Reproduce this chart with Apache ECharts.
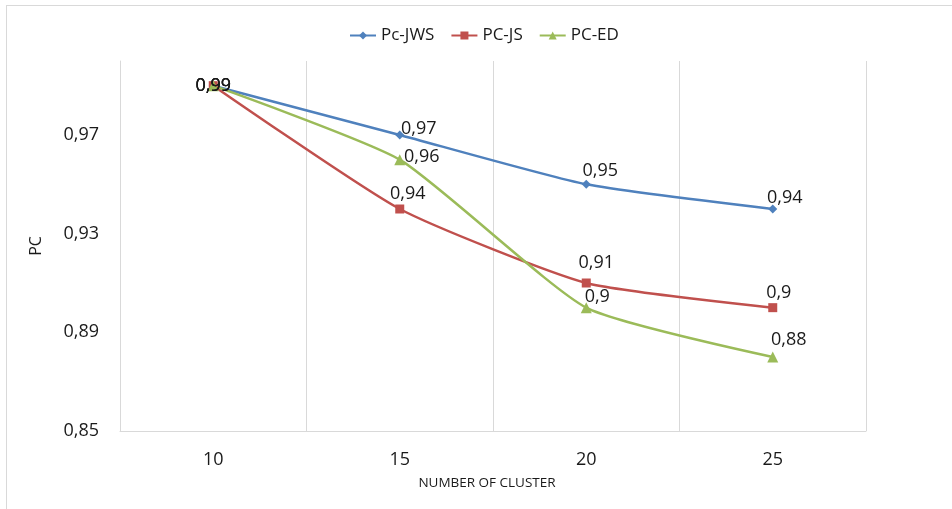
<!DOCTYPE html>
<html>
<head>
<meta charset="utf-8">
<script src="https://cdn.jsdelivr.net/npm/echarts@6/dist/echarts.min.js"></script>
<style>
  html, body { margin: 0; padding: 0; width: 952px; height: 509px; overflow: hidden; background: #fff; }
  #frame { position: absolute; left: 6px; top: 5px; width: 980px; height: 540px; border: 1px solid #d9d9d9; }
  #chart { position: absolute; left: 0; top: 0; width: 952px; height: 509px; }
</style>
</head>
<body>
<div id="frame"></div>
<div id="chart"></div>
<script>
// Cluster counts on the x axis
const categories = ['10', '15', '20', '25'];

// PC values per distance measure
const pcJWS = [0.99, 0.97, 0.95, 0.94];
const pcJS  = [0.99, 0.94, 0.91, 0.90];
const pcED  = [0.99, 0.96, 0.90, 0.88];

// Y tick labels shown on the value axis
const yTicks = [0.85, 0.89, 0.93, 0.97];

const FONT = '"Open Sans", "DejaVu Sans", sans-serif';
const comma = v => String(v).replace('.', ',');

// label placement around each marker, per series
const labelShift = {
  jws: [[0, 0], [19, -6], [14, -13], [12, -11]],
  js:  [[0, 0], [8, -15], [10, -20], [6, -15]],
  ed:  [[0, 0], [22, -3], [11, -11], [16, -17]]
};

function points(values, shifts) {
  return values.map((v, i) => ({
    value: v,
    label: { offset: shifts[i] }
  }));
}

function lineSeries(name, values, shifts, color, symbol, size) {
  return {
    name: name,
    type: 'line',
    data: points(values, shifts),
    smooth: 0.18,
    symbol: symbol,
    symbolSize: size,
    lineStyle: { color: color, width: 2.5 },
    itemStyle: { color: color },
    label: {
      show: true,
      position: 'inside',
      formatter: p => comma(p.value),
      color: '#1a1a1a',
      fontFamily: FONT,
      fontSize: 18
    },
    emphasis: { disabled: true }
  };
}

const chart = echarts.init(document.getElementById('chart'), null, { renderer: 'canvas' });
chart.setOption({
  animation: false,
  backgroundColor: 'transparent',
  legend: {
    top: 22,
    left: 344,
    itemWidth: 26,
    itemHeight: 10,
    itemGap: 16,
    textStyle: { fontFamily: FONT, fontSize: 17, color: '#1a1a1a' },
    data: ['Pc-JWS', 'PC-JS', 'PC-ED']
  },
  grid: { left: 120, right: 86, top: 61, bottom: 78 },
  xAxis: {
    type: 'category',
    data: categories,
    boundaryGap: true,
    name: 'NUMBER OF CLUSTER',
    nameLocation: 'middle',
    nameGap: 45,
    nameTextStyle: { fontFamily: FONT, fontSize: 13.5, color: '#1a1a1a', padding: [0, 12, 0, 0] },
    axisLine: { show: true, lineStyle: { color: '#d9d9d9', width: 1 } },
    axisTick: { show: false },
    axisLabel: { fontFamily: FONT, fontSize: 18, color: '#1a1a1a', margin: 20 },
    splitLine: { show: true, lineStyle: { color: '#d9d9d9', width: 1 } }
  },
  yAxis: {
    type: 'value',
    min: 0.85,
    max: 1.0,
    name: 'PC',
    nameLocation: 'middle',
    nameGap: 76,
    nameTextStyle: { fontFamily: FONT, fontSize: 16, color: '#1a1a1a' },
    axisLine: { show: true, lineStyle: { color: '#d9d9d9', width: 1 } },
    axisTick: { show: false },
    splitLine: { show: false },
    axisLabel: {
      customValues: yTicks,
      formatter: v => v.toFixed(2).replace('.', ','),
      fontFamily: FONT,
      fontSize: 18,
      color: '#1a1a1a',
      margin: 21
    }
  },
  series: [
    lineSeries('Pc-JWS', pcJWS, labelShift.jws, '#4F81BD', 'diamond', 9),
    lineSeries('PC-JS', pcJS, labelShift.js, '#C0504D', 'rect', 9),
    lineSeries('PC-ED', pcED, labelShift.ed, '#9BBB59', 'triangle', 11)
  ]
});
</script>
</body>
</html>
